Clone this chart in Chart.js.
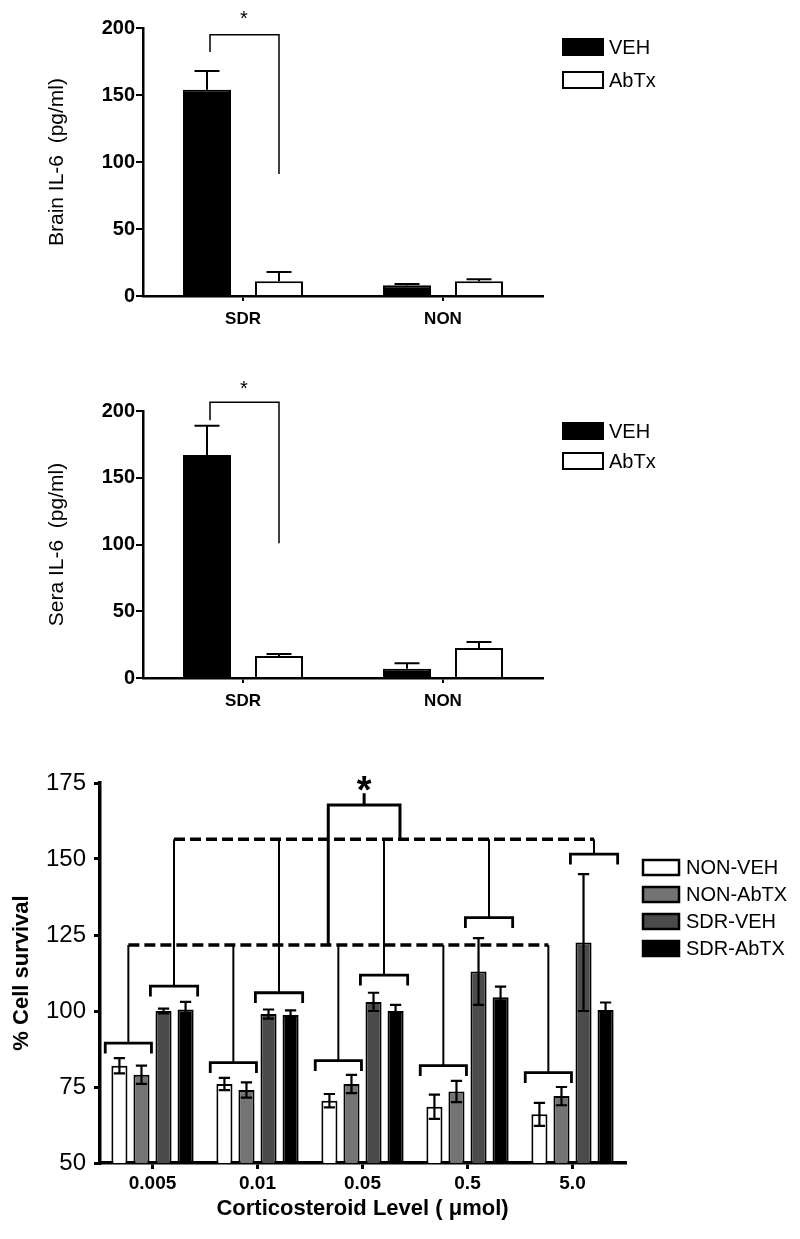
<!DOCTYPE html>
<html lang="en">
<head>
<meta charset="UTF-8">
<title>IL-6 and cell survival</title>
<script src="https://cdn.jsdelivr.net/npm/chart.js"></script>
<style>
  body { margin: 0; background: #fff; }
  .wrap { position: relative; width: 800px; height: 1239px; }
  canvas { position: absolute; left: 0; }
</style>
</head>
<body>
<div class="wrap">
  <canvas id="brainChart" width="800" height="340" style="top:0"></canvas>
  <canvas id="seraChart" width="800" height="400" style="top:340px"></canvas>
  <canvas id="cellChart" width="800" height="499" style="top:740px"></canvas>
</div>
<script>
// --- data ---
const groups = ['SDR', 'NON'];
const brainVeh = [154, 8];
const brainVehErr = [14, 1];
const brainAbtx = [11, 11];
const brainAbtxErr = [7, 1.5];

const seraVeh = [167, 7];
const seraVehErr = [22, 4];
const seraAbtx = [16.5, 22.5];
const seraAbtxErr = [1.5, 4.5];

const il6Ticks = [0, 50, 100, 150, 200];

const doses = ['0.005', '0.01', '0.05', '0.5', '5.0'];
const nonVeh = [82, 76, 70.5, 68.5, 66];
const nonVehErr = [2.5, 2, 2.2, 4, 3.8];
const nonAbtx = [79, 74, 76, 73.5, 72];
const nonAbtxErr = [3, 2.5, 3, 3.5, 3];
const sdrVeh = [100, 99, 103, 113, 122.5];
const sdrVehErr = [0.8, 1.5, 3, 11, 22.5];
const sdrAbtx = [100.5, 98.7, 100, 104.5, 100.3];
const sdrAbtxErr = [2.5, 1.5, 2, 3.5, 2.5];

// bracket heights (% survival)
const nonBracket = [89.4, 83, 83.7, 82, 79.7];
const sdrBracket = [108.2, 106, 111.8, 130.7, 151.6];
const lowerDash = 121.7;
const upperDash = 156.5;
const sigTop = 167.8;

Chart.defaults.font.family = "Arial, 'Liberation Sans', sans-serif";
Chart.defaults.color = '#000';
Chart.defaults.animation = false;

// error bars from ds.errors
const errorBars = {
  id: 'errorBars',
  afterDatasetsDraw(chart, args, o) {
    const ctx = chart.ctx, y = chart.scales.y;
    chart.data.datasets.forEach((ds, di) => {
      const meta = chart.getDatasetMeta(di);
      meta.data.forEach((bar, i) => {
        const v = ds.data[i], e = ds.errors[i];
        const top = y.getPixelForValue(v + e);
        const bot = o.both ? y.getPixelForValue(v - e) : bar.y;
        const cap = bar.width * o.cap / 2;
        ctx.save();
        ctx.strokeStyle = '#000';
        ctx.lineWidth = o.width;
        ctx.beginPath();
        ctx.moveTo(bar.x, top); ctx.lineTo(bar.x, bot);
        ctx.moveTo(bar.x - cap, top); ctx.lineTo(bar.x + cap, top);
        if (o.both) { ctx.moveTo(bar.x - cap, bot); ctx.lineTo(bar.x + cap, bot); }
        ctx.stroke();
        ctx.restore();
      });
    });
  }
};

// legend drawn as boxes at the right
const boxLegend = {
  id: 'boxLegend',
  afterDraw(chart, args, o) {
    const ctx = chart.ctx;
    ctx.save();
    chart.data.datasets.forEach((ds, i) => {
      const yy = o.y + i * o.step;
      ctx.fillStyle = ds.backgroundColor;
      ctx.fillRect(o.x, yy, o.w, o.h);
      ctx.strokeStyle = '#000';
      ctx.lineWidth = o.lw;
      ctx.strokeRect(o.x, yy, o.w, o.h);
      ctx.fillStyle = '#000';
      ctx.font = o.font;
      ctx.textBaseline = 'middle';
      ctx.fillText(ds.label, o.x + o.w + o.gap, yy + o.h / 2 + 1);
    });
    ctx.restore();
  }
};

// SDR VEH vs SDR AbTx bracket for the IL-6 charts
const sigBracket = {
  id: 'sigBracket',
  afterDraw(chart, args, o) {
    const ctx = chart.ctx, y = chart.scales.y;
    const a = chart.getDatasetMeta(0).data[0], b = chart.getDatasetMeta(1).data[0];
    const yt = y.getPixelForValue(o.top);
    ctx.save();
    ctx.strokeStyle = '#000';
    ctx.lineWidth = 1.5;
    ctx.beginPath();
    ctx.moveTo(a.x + 3, y.getPixelForValue(o.left));
    ctx.lineTo(a.x + 3, yt);
    ctx.lineTo(b.x, yt);
    ctx.lineTo(b.x, y.getPixelForValue(o.right));
    ctx.stroke();
    ctx.fillStyle = '#000';
    ctx.font = '20px Arial';
    ctx.textAlign = 'center';
    ctx.textBaseline = 'alphabetic';
    ctx.fillText('*', (a.x + b.x) / 2 + 1, y.getPixelForValue(o.star) + 20 * 0.58);
    ctx.restore();
  }
};

// brackets + dashed comparison lines in the survival chart
const cellBrackets = {
  id: 'cellBrackets',
  afterDraw(chart) {
    const ctx = chart.ctx, xs = chart.scales.x, ys = chart.scales.y;
    const X = v => xs.getPixelForValue(v), Y = v => ys.getPixelForValue(v);
    const drop = 3.4;
    const nonSpan = [-0.45, -0.01], sdrSpan = [-0.02, 0.43];
    const nonMid = (nonSpan[0] + nonSpan[1]) / 2, sdrMid = (sdrSpan[0] + sdrSpan[1]) / 2;
    ctx.save();
    ctx.strokeStyle = '#000';
    doses.forEach((d, i) => {
      [[nonBracket[i], nonSpan, lowerDash], [sdrBracket[i], sdrSpan, upperDash]].forEach(([top, sp, lvl]) => {
        ctx.lineWidth = 2.8;
        ctx.beginPath();
        ctx.moveTo(X(i + sp[0]), Y(top - drop));
        ctx.lineTo(X(i + sp[0]), Y(top));
        ctx.lineTo(X(i + sp[1]), Y(top));
        ctx.lineTo(X(i + sp[1]), Y(top - drop));
        ctx.stroke();
        const m = (sp[0] + sp[1]) / 2;
        ctx.lineWidth = 2;
        ctx.beginPath();
        ctx.moveTo(X(i + m), Y(top));
        ctx.lineTo(X(i + m), Y(lvl));
        ctx.stroke();
      });
    });
    ctx.setLineDash([11, 5]);
    ctx.lineWidth = 3.5;
    ctx.beginPath();
    ctx.moveTo(X(nonMid), Y(lowerDash)); ctx.lineTo(X(4 + nonMid), Y(lowerDash));
    ctx.moveTo(X(sdrMid), Y(upperDash)); ctx.lineTo(X(4 + sdrMid), Y(upperDash));
    ctx.stroke();
    ctx.setLineDash([]);
    // significance bracket between the two dashed levels
    const l = 1.674, r = 2.357, c = (l + r) / 2;
    ctx.lineWidth = 3;
    ctx.beginPath();
    ctx.moveTo(X(l), Y(lowerDash));
    ctx.lineTo(X(l), Y(sigTop));
    ctx.lineTo(X(r), Y(sigTop));
    ctx.lineTo(X(r), Y(upperDash));
    ctx.moveTo(X(c), Y(sigTop));
    ctx.lineTo(X(c), Y(sigTop + 3.8));
    ctx.stroke();
    ctx.fillStyle = '#000';
    ctx.font = 'bold 38px Arial';
    ctx.textAlign = 'center';
    ctx.fillText('*', X(c), Y(175.8) + 38 * 0.58);
    ctx.restore();
  }
};

function il6Chart(id, title, veh, vehErr, abtx, abtxErr, topPad, bottomPad, sig, legendY, legendStep) {
  return new Chart(document.getElementById(id), {
    type: 'bar',
    data: {
      labels: groups,
      datasets: [
        { label: 'VEH', data: veh, errors: vehErr, backgroundColor: '#000', borderColor: '#000', borderWidth: 2 },
        { label: 'AbTx', data: abtx, errors: abtxErr, backgroundColor: '#fff', borderColor: '#000', borderWidth: 2 }
      ]
    },
    options: {
      responsive: false,
      categoryPercentage: 0.72,
      barPercentage: 0.667,
      layout: { padding: { left: 0, right: 257, top: topPad, bottom: bottomPad } },
      plugins: {
        legend: { display: false },
        tooltip: { enabled: false },
        errorBars: { both: false, cap: 0.52, width: 2 },
        sigBracket: sig,
        boxLegend: { x: 563, y: legendY, step: legendStep, w: 40, h: 16, lw: 2, gap: 6, font: '20px Arial' }
      },
      scales: {
        x: {
          afterFit: s => { s.height = 44; },
          grid: { display: true, drawOnChartArea: false, offset: false, tickLength: 5, color: '#000', lineWidth: 2 },
          border: { display: true, color: '#000', width: 2.5 },
          ticks: { font: { size: 17, weight: 'bold' }, padding: 8 }
        },
        y: {
          min: 0, max: 200,
          afterFit: s => { s.width = 143; },
          afterBuildTicks: s => { s.ticks = il6Ticks.map(v => ({ value: v })); },
          grid: { display: true, drawOnChartArea: false, tickLength: 7, color: '#000', lineWidth: 2 },
          border: { display: true, color: '#000', width: 2.5 },
          ticks: { font: { size: 20, weight: 'bold' }, padding: 1 },
          title: { display: true, text: title, font: { size: 21 }, padding: { top: 45, bottom: 0 } }
        }
      }
    },
    plugins: [errorBars, sigBracket, boxLegend]
  });
}

il6Chart('brainChart', 'Brain IL-6  (pg/ml)', brainVeh, brainVehErr, brainAbtx, brainAbtxErr, 28, 0,
  { top: 195, left: 182, right: 91, star: 210.7 }, 39, 33);
il6Chart('seraChart', 'Sera IL-6  (pg/ml)', seraVeh, seraVehErr, seraAbtx, seraAbtxErr, 71, 18,
  { top: 206.5, left: 193, right: 101, star: 221 }, 83, 30);

new Chart(document.getElementById('cellChart'), {
  type: 'bar',
  data: {
    labels: doses,
    datasets: [
      { label: 'NON-VEH', data: nonVeh, errors: nonVehErr, backgroundColor: '#fff', borderColor: '#000', borderWidth: 2 },
      { label: 'NON-AbTX', data: nonAbtx, errors: nonAbtxErr, backgroundColor: '#747474', borderColor: '#000', borderWidth: 2 },
      { label: 'SDR-VEH', data: sdrVeh, errors: sdrVehErr, backgroundColor: '#4b4b4b', borderColor: '#000', borderWidth: 2 },
      { label: 'SDR-AbTX', data: sdrAbtx, errors: sdrAbtxErr, backgroundColor: '#000', borderColor: '#000', borderWidth: 2 }
    ]
  },
  options: {
    responsive: false,
    categoryPercentage: 0.84,
    barPercentage: 0.73,
    layout: { padding: { left: 0, right: 175, top: 43, bottom: 0 } },
    plugins: {
      legend: { display: false },
      tooltip: { enabled: false },
      errorBars: { both: true, cap: 0.7, width: 2.2 },
      boxLegend: { x: 643, y: 120, step: 27, w: 36, h: 15, lw: 2.5, gap: 7, font: '20px Arial' }
    },
    scales: {
      x: {
        afterFit: s => { s.height = 76; },
        grid: { display: true, drawOnChartArea: false, offset: false, tickLength: 6, color: '#000', lineWidth: 3 },
        border: { display: true, color: '#000', width: 3.5 },
        ticks: { font: { size: 19, weight: 'bold' }, padding: 3 },
        title: { display: true, text: 'Corticosteroid Level ( \u03bcmol)', font: { size: 22, weight: 'bold' }, padding: { top: 0, bottom: 17 } }
      },
      y: {
        min: 50, max: 175,
        afterFit: s => { s.width = 100; },
        ticks: { stepSize: 25, font: { size: 24 }, padding: 8 },
        grid: { display: true, drawOnChartArea: false, tickLength: 6, color: '#000', lineWidth: 3 },
        border: { display: true, color: '#000', width: 3.5 },
        title: { display: true, text: '% Cell survival', font: { size: 22, weight: 'bold' }, padding: { top: 9, bottom: 0 } }
      }
    }
  },
  plugins: [errorBars, cellBrackets, boxLegend]
});
</script>
</body>
</html>
